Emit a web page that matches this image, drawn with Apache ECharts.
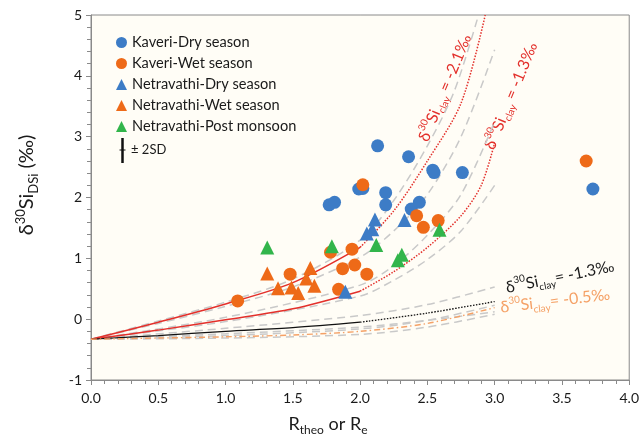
<!DOCTYPE html>
<html>
<head>
<meta charset="utf-8">
<script src="https://cdn.jsdelivr.net/npm/echarts@6/dist/echarts.min.js"></script>
<style>
  html, body { margin: 0; padding: 0; background: #fff; }
  #chartmain { width: 642px; height: 439px; }
</style>
</head>
<body>
<div id="chartmain"></div>
<script>
// samples  [R, d30Si]
var kaveriDry = [[1.77, 1.88], [1.81, 1.92], [1.99, 2.14], [2.02, 2.15], [2.13, 2.85], [2.19, 2.08], [2.19, 1.88],
  [2.36, 2.67], [2.38, 1.81], [2.44, 1.92], [2.54, 2.45], [2.55, 2.41], [2.76, 2.41], [3.73, 2.14]];
var kaveriWet = [[1.09, 0.30], [1.48, 0.74], [1.78, 1.10], [1.84, 0.49], [1.87, 0.83], [1.94, 1.15], [1.96, 0.89],
  [2.02, 2.21], [2.05, 0.74], [2.42, 1.70], [2.47, 1.51], [2.58, 1.62], [3.68, 2.60]];
var netraDry = [[1.89, 0.45], [2.05, 1.41], [2.09, 1.48], [2.11, 1.64], [2.33, 1.63]];
var netraWet = [[1.31, 0.75], [1.39, 0.51], [1.49, 0.52], [1.54, 0.43], [1.60, 0.67], [1.63, 0.84], [1.66, 0.55]];
var netraPost = [[1.31, 1.18], [1.79, 1.20], [2.12, 1.22], [2.28, 0.97], [2.31, 1.06], [2.59, 1.47]];

// model curves
var clay21 = [[0, -0.33], [0.5, -0.05], [1.0, 0.25], [1.5, 0.6], [2.0, 1.18]];
var clay21Dot = [[2.0, 1.18], [2.25, 1.78], [2.5, 2.6], [2.75, 3.55], [2.93, 5.0]];
var clay21Hi = [[0, -0.33], [0.5, -0.03], [1.0, 0.28], [1.5, 0.66], [2.0, 1.3], [2.25, 1.95], [2.5, 2.85], [2.7, 3.75], [2.88, 5.0]];
var clay21Lo = [[0, -0.33], [0.5, -0.07], [1.0, 0.21], [1.5, 0.53], [2.0, 1.02], [2.25, 1.45], [2.5, 2.05], [2.75, 3.0], [3.0, 4.43]];

var clay13 = [[0, -0.33], [0.5, -0.18], [1.0, -0.01], [1.5, 0.17], [2.0, 0.46]];
var clay13Dot = [[2.0, 0.46], [2.25, 0.78], [2.5, 1.18], [2.75, 1.7], [2.9, 2.2], [3.0, 2.9]];
var clay13Hi = [[0, -0.33], [1.0, 0.03], [2.0, 0.56], [2.25, 0.88], [2.5, 1.38], [2.75, 2.05], [3.0, 3.25]];
var clay13Lo = [[0, -0.33], [1.0, -0.04], [2.0, 0.38], [2.25, 0.64], [2.5, 0.98], [2.75, 1.45], [3.0, 2.2]];

var blk13 = [[0, -0.33], [0.5, -0.27], [1.0, -0.2], [1.5, -0.14], [2.0, -0.05]];
var blk13Dot = [[2.0, -0.05], [2.5, 0.1], [3.0, 0.29]];
var blk13Hi = [[0, -0.33], [1.0, -0.15], [2.0, 0.06], [2.5, 0.24], [3.0, 0.53]];
var blk13Lo = [[0, -0.33], [1.0, -0.24], [2.0, -0.13], [2.5, -0.02], [3.0, 0.12]];

var org05 = [[0, -0.33], [0.5, -0.31], [1.0, -0.29], [1.5, -0.26], [2.0, -0.2], [2.5, -0.07], [3.0, 0.19]];
var org05Hi = [[0, -0.33], [1.0, -0.27], [2.0, -0.16], [2.5, -0.02], [3.0, 0.23]];
var org05Lo = [[0, -0.33], [1.0, -0.31], [2.0, -0.25], [2.5, -0.13], [3.0, 0.08]];

var xTicks = [0, 0.5, 1.0, 1.5, 2.0, 2.5, 3.0, 3.5, 4.0];
var yTicks = [-1, 0, 1, 2, 3, 4, 5];

var FONT = "Lato";
var BLUE = "#3d7cc6", ORANGE = "#ee6a18", GREEN = "#32b54b", RED = "#e3302b", GREY = "#c9c9c9";

function curve(data, color, type, width) {
  return {
    type: "line", data: data, smooth: 0.3, symbol: "none", silent: true,
    lineStyle: { color: color, type: type, width: width }, z: 1
  };
}

function pts(name, data, color, symbol, size) {
  return { name: name, type: "scatter", data: data, symbol: symbol, symbolSize: size, itemStyle: { color: color, opacity: 1 }, z: 5 };
}

// rich text for the labels
function rich(size, color) {
  return {
    b: { fontSize: size, fontFamily: FONT, fill: color, color: color, lineHeight: size + 6, verticalAlign: "middle" },
    sup: { fontSize: Math.round(size * 0.65), fontFamily: FONT, fill: color, color: color, lineHeight: 10, verticalAlign: "top" },
    sub: { fontSize: Math.round(size * 0.65), fontFamily: FONT, fill: color, color: color, lineHeight: 10, verticalAlign: "bottom" }
  };
}

function label(x, y, deg, txt, size, color) {
  return {
    type: "text", x: x, y: y, rotation: deg * Math.PI / 180, silent: true,
    style: { text: txt, rich: rich(size, color), fill: color, align: "center", verticalAlign: "middle", fontFamily: FONT, fontSize: size }
  };
}

var axisGrey = "#8a8a8a";

var option = {
  animation: false,
  grid: { left: 91, right: 11, top: 15, bottom: 59, show: true, backgroundColor: "#fffdf6", borderColor: axisGrey, borderWidth: 1 },
  legend: {
    data: ["Kaveri-Dry season", "Kaveri-Wet season", "Netravathi-Dry season", "Netravathi-Wet season", "Netravathi-Post monsoon"],
    orient: "vertical", left: 111, top: 30, itemWidth: 11, itemHeight: 11, itemGap: 6,
    textStyle: { fontFamily: FONT, fontSize: 14.6, color: "#1a1a1a" }
  },
  xAxis: {
    type: "value", min: xTicks[0], max: xTicks[xTicks.length - 1], interval: 0.5,
    axisLine: { show: true, onZero: false, lineStyle: { color: axisGrey } },
    axisTick: { show: true, length: 5, lineStyle: { color: axisGrey } },
    minorTick: { show: true, splitNumber: 5, length: 4, lineStyle: { color: axisGrey } },
    splitLine: { show: false },
    axisLabel: { formatter: function (v) { return v.toFixed(1); }, fontFamily: FONT, fontSize: 14, color: "#1a1a1a", margin: 11 }
  },
  yAxis: {
    type: "value", min: yTicks[0], max: yTicks[yTicks.length - 1], interval: 1,
    axisLine: { show: true, onZero: false, lineStyle: { color: axisGrey } },
    axisTick: { show: true, length: 5, lineStyle: { color: axisGrey } },
    minorTick: { show: true, splitNumber: 5, length: 4, lineStyle: { color: axisGrey } },
    splitLine: { show: false },
    axisLabel: { fontFamily: FONT, fontSize: 14, color: "#1a1a1a", margin: 9 }
  },
  graphic: [
    label(27, 185, 90, "{b|δ}{sup|30}{b|Si}{sub|DSi}{b| (‰)}", 20, "#1a1a1a"),
    label(328, 424, 0, "{b|R}{sub|theo}{b| or R}{sub|e}", 18, "#1a1a1a"),
    label(445, 88, 67.5, "{b|δ}{sup|30}{b|Si}{sub|clay}{b| = -2.1‰}", 16, RED),
    label(511, 96, 67.5, "{b|δ}{sup|30}{b|Si}{sub|clay}{b| = -1.3‰}", 16, RED),
    label(560, 277, 11.5, "{b|δ}{sup|30}{b|Si}{sub|clay}{b|= -1.3‰}", 16, "#1a1a1a"),
    label(555, 301, 7, "{b|δ}{sup|30}{b|Si}{sub|clay}{b|= -0.5‰}", 16, "#f5a166"),
    // +-2SD marker
    { type: "line", silent: true, shape: { x1: 122.5, y1: 138, x2: 122.5, y2: 163 }, style: { stroke: "#111", lineWidth: 2.5 } },
    { type: "line", silent: true, shape: { x1: 119.5, y1: 150, x2: 125.5, y2: 150 }, style: { stroke: "#111", lineWidth: 1 } },
    { type: "text", x: 131, y: 150, silent: true, style: { text: "± 2SD", fontFamily: FONT, fontSize: 13, fill: "#1a1a1a", verticalAlign: "middle" } }
  ],
  series: [
    curve(clay21Hi, GREY, [8, 5], 1.5),
    curve(clay21Lo, GREY, [8, 5], 1.5),
    curve(clay13Hi, GREY, [8, 5], 1.5),
    curve(clay13Lo, GREY, [8, 5], 1.5),
    curve(blk13Hi, GREY, [8, 5], 1.5),
    curve(blk13Lo, GREY, [8, 5], 1.5),
    curve(org05Hi, GREY, [8, 5], 1.5),
    curve(org05Lo, GREY, [8, 5], 1.5),
    curve(clay21, RED, "solid", 1.5),
    curve(clay21Dot, RED, [1.5, 1.5], 1.5),
    curve(clay13, RED, "solid", 1.5),
    curve(clay13Dot, RED, [1.5, 1.5], 1.5),
    curve(blk13, "#111", "solid", 1.2),
    curve(blk13Dot, "#111", [1.5, 1.5], 1.3),
    curve(org05, "#f5a166", [6, 3, 1.5, 3], 1.4),
    pts("Kaveri-Dry season", kaveriDry, BLUE, "circle", 13),
    pts("Kaveri-Wet season", kaveriWet, ORANGE, "circle", 13),
    pts("Netravathi-Dry season", netraDry, BLUE, "triangle", 14),
    pts("Netravathi-Wet season", netraWet, ORANGE, "triangle", 14),
    pts("Netravathi-Post monsoon", netraPost, GREEN, "triangle", 14)
  ]
};

var myChart = echarts.init(document.getElementById("chartmain"));
myChart.setOption(option);
</script>
</body>
</html>
